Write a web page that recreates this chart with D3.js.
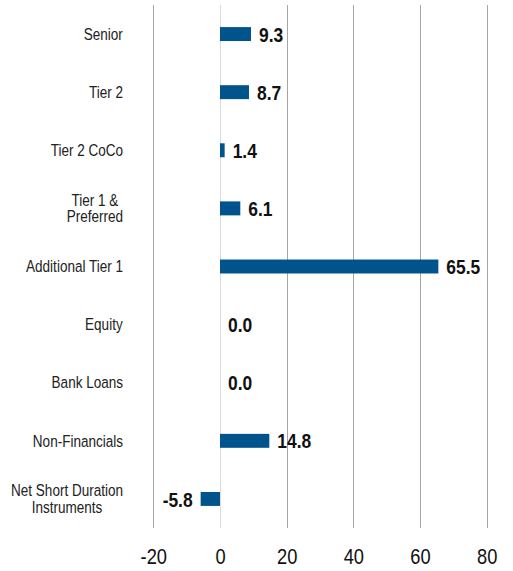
<!DOCTYPE html>
<html>
<head>
<meta charset="utf-8">
<script src="https://cdn.jsdelivr.net/npm/d3@7"></script>
<style>
html,body{margin:0;padding:0;background:#fff;}
svg{display:block;}
text{font-family:"Liberation Sans Narrow","Liberation Sans",Arial,sans-serif;}
</style>
</head>
<body>
<svg id="chart" width="513" height="571"></svg>
<script>
const categories = ["Senior","Tier 2","Tier 2 CoCo","Tier 1 &\nPreferred","Additional Tier 1","Equity","Bank Loans","Non-Financials","Net Short Duration\nInstruments"];
const values = [9.3, 8.7, 1.4, 6.1, 65.5, 0.0, 0.0, 14.8, -5.8];
const tickValues = [-20, 0, 20, 40, 60, 80];

const SX = 0.83; // horizontal condensation to mimic a narrow font
const svg = d3.select("#chart");
const x = d3.scaleLinear().domain([-20, 80]).range([153.3, 486.7]);
const y = d3.scaleBand().domain(categories).range([5, 528]).paddingInner(0.76).paddingOuter(0.38);
const yc = d => y(d) + y.bandwidth() / 2;

// gridlines
svg.append("g").selectAll("line").data(tickValues).join("line")
  .attr("x1", d => Math.round(x(d)) + 0.5).attr("x2", d => Math.round(x(d)) + 0.5)
  .attr("y1", 5).attr("y2", 528)
  .attr("stroke", d => d === 0 ? "#d9d9d9" : "#a6a6a6").attr("stroke-width", 1);

// bars
const data = categories.map((c, i) => ({c, v: values[i]}));
svg.append("g").selectAll("rect").data(data).join("rect")
  .attr("x", d => x(Math.min(0, d.v)))
  .attr("width", d => Math.abs(x(d.v) - x(0)))
  .attr("y", d => y(d.c))
  .attr("height", y.bandwidth())
  .attr("fill", "#00548b");

// value labels
svg.append("g").selectAll("text").data(data).join("text")
  .attr("transform", d => `translate(${d.v < 0 ? x(d.v) - 8 : x(Math.max(0, d.v)) + 8},${yc(d.c)}) scale(${SX},1)`)
  .attr("dy", "0.36em")
  .attr("text-anchor", d => d.v < 0 ? "end" : "start")
  .attr("font-weight", "bold")
  .attr("font-size", 21)
  .attr("fill", "#111")
  .text(d => d.v.toFixed(1));

// category labels (multi-line centered block right-aligned)
const catG = svg.append("g");
categories.forEach(c => {
  const lines = c.split("\n");
  const t = catG.append("text")
    .attr("font-size", 16.3).attr("fill", "#222")
    .attr("text-anchor", "middle");
  lines.forEach((ln, i) => {
    t.append("tspan").attr("x", 0)
      .attr("y", yc(c) + (i - (lines.length - 1) / 2) * 16.7)
      .attr("dy", "0.35em").text(ln);
  });
  const w = t.node().getBBox().width * SX;
  t.attr("transform", `translate(${123 - w / 2},0) scale(${SX},1)`);
});

// x axis tick labels
const xAxis = d3.axisBottom(x).tickValues(tickValues).tickSize(0).tickPadding(0).tickFormat(d => String(d));
const ax = svg.append("g").attr("transform", "translate(0,548)").call(xAxis);
ax.select(".domain").remove();
ax.selectAll("text").attr("font-size", 22).attr("fill", "#111")
  .attr("font-family", '"Liberation Sans Narrow","Liberation Sans",Arial,sans-serif')
  .attr("dy", "0.71em").attr("y", 0)
  .attr("transform", `scale(${SX},1)`);
</script>
</body>
</html>
